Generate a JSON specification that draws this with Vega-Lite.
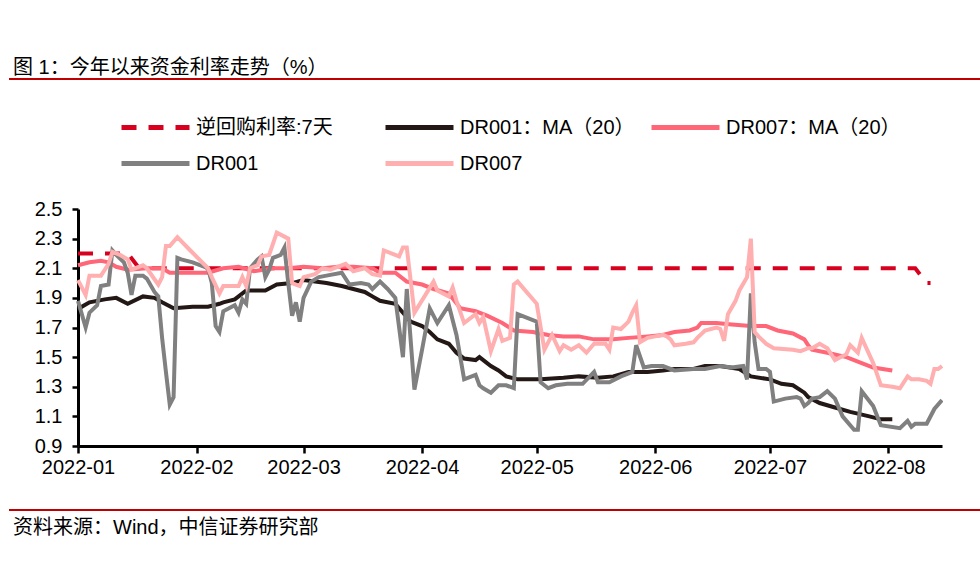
{
  "$schema": "https://vega.github.io/schema/vega-lite/v6.json",
  "background": "white",
  "padding": {"left": 9, "top": 57, "right": 0, "bottom": 0},
  "bounds": "flush",
  "spacing": 64,
  "config": {
    "font": "Liberation Sans, Noto Sans CJK SC, sans-serif",
    "view": {"stroke": null},
    "legend": {
      "orient": "none",
      "symbolType": "stroke",
      "symbolSize": 4624,
      "symbolStrokeWidth": 5,
      "labelFontSize": 20,
      "labelColor": "#000000",
      "labelOffset": 4,
      "labelLimit": 400,
      "padding": 0
    }
  },
  "vconcat": [
    {
      "width": 971,
      "height": 0.01,
      "data": {"values": []},
      "mark": "point",
      "view": {"stroke": "#C00000", "strokeWidth": 2},
      "title": {"text": "图 1：今年以来资金利率走势（%）", "anchor": "start", "frame": "group", "fontSize": 20, "fontWeight": "normal", "color": "#000000", "offset": 1, "dx": 3}
    },
    {
      "width": 971,
      "height": 1,
      "data": {"values": []},
      "mark": "point"
    },
    {
      "width": 933,
      "height": 237,
      "encoding": {
        "x": {
          "field": "date",
          "type": "temporal",
          "scale": {
            "type": "utc",
            "domain": [{"year": 2022, "month": 1, "date": 1, "utc": true}, {"year": 2022, "month": 8, "date": 15, "utc": true}],
            "range": [68, 932]
          },
          "axis": {
            "title": null,
            "values": [
              {"year": 2022, "month": 1, "date": 1, "utc": true},
              {"year": 2022, "month": 2, "date": 1, "utc": true},
              {"year": 2022, "month": 3, "date": 1, "utc": true},
              {"year": 2022, "month": 4, "date": 1, "utc": true},
              {"year": 2022, "month": 5, "date": 1, "utc": true},
              {"year": 2022, "month": 6, "date": 1, "utc": true},
              {"year": 2022, "month": 7, "date": 1, "utc": true},
              {"year": 2022, "month": 8, "date": 1, "utc": true}
            ],
            "labelExpr": "utcFormat(datum.value, '%Y-%m')",
            "labelFontSize": 20,
            "labelColor": "#000000",
            "labelFlush": false,
            "labelOverlap": false,
            "labelPadding": 4,
            "tickSize": 7,
            "tickWidth": 2.5,
            "tickColor": "#000000",
            "domainColor": "#000000",
            "domainWidth": 3,
            "grid": false
          }
        },
        "y": {
          "field": "value",
          "type": "quantitative",
          "scale": {"domain": [0.9, 2.5], "nice": false, "zero": false},
          "axis": {
            "title": null,
            "values": [0.9, 1.1, 1.3, 1.5, 1.7, 1.9, 2.1, 2.3, 2.5],
            "format": ".1f",
            "offset": -68,
            "labelFontSize": 20,
            "labelColor": "#000000",
            "labelPadding": 10,
            "tickSize": 6,
            "tickWidth": 2.5,
            "tickColor": "#000000",
            "domainColor": "#000000",
            "domainWidth": 3,
            "grid": false
          }
        }
      },
      "resolve": {"scale": {"color": "independent"}, "legend": {"color": "independent"}},
      "layer": [
        {
          "data": {"values": [
            {"date": "2022-01-01", "value": 2.2},
            {"date": "2022-01-14", "value": 2.2},
            {"date": "2022-01-17", "value": 2.1},
            {"date": "2022-08-08", "value": 2.1},
            {"date": "2022-08-11", "value": 2.0},
            {"date": "2022-08-12", "value": 2.0}
          ]},
          "mark": {"type": "line", "strokeWidth": 4, "strokeDash": [15, 12], "clip": true},
          "encoding": {
            "color": {"datum": "逆回购利率:7天", "type": "nominal", "scale": {"range": ["#D7001E"]},
              "legend": {"title": null, "orient": "none", "legendX": 109, "legendY": -118, "symbolDash": [15, 12]}}
          }
        },
        {
          "data": {"values": [
            {"date": "2022-01-01", "value": 1.82}, {"date": "2022-01-02", "value": 1.84}, {"date": "2022-01-04", "value": 1.87},
            {"date": "2022-01-08", "value": 1.89}, {"date": "2022-01-11", "value": 1.90}, {"date": "2022-01-14", "value": 1.86},
            {"date": "2022-01-18", "value": 1.91}, {"date": "2022-01-21", "value": 1.90}, {"date": "2022-01-23", "value": 1.87},
            {"date": "2022-01-26", "value": 1.83}, {"date": "2022-01-31", "value": 1.84}, {"date": "2022-02-04", "value": 1.84},
            {"date": "2022-02-07", "value": 1.86}, {"date": "2022-02-08", "value": 1.87}, {"date": "2022-02-11", "value": 1.89},
            {"date": "2022-02-14", "value": 1.95}, {"date": "2022-02-16", "value": 1.95}, {"date": "2022-02-19", "value": 1.95},
            {"date": "2022-02-22", "value": 1.99}, {"date": "2022-02-26", "value": 2.00}, {"date": "2022-03-01", "value": 2.02},
            {"date": "2022-03-04", "value": 2.01}, {"date": "2022-03-07", "value": 2.00}, {"date": "2022-03-11", "value": 1.98},
            {"date": "2022-03-14", "value": 1.96}, {"date": "2022-03-17", "value": 1.94}, {"date": "2022-03-19", "value": 1.91},
            {"date": "2022-03-21", "value": 1.88}, {"date": "2022-03-25", "value": 1.86}, {"date": "2022-03-26", "value": 1.83},
            {"date": "2022-03-29", "value": 1.74}, {"date": "2022-04-01", "value": 1.71}, {"date": "2022-04-03", "value": 1.67},
            {"date": "2022-04-05", "value": 1.62}, {"date": "2022-04-08", "value": 1.59}, {"date": "2022-04-10", "value": 1.53},
            {"date": "2022-04-12", "value": 1.49}, {"date": "2022-04-15", "value": 1.48}, {"date": "2022-04-16", "value": 1.50},
            {"date": "2022-04-19", "value": 1.44}, {"date": "2022-04-21", "value": 1.41}, {"date": "2022-04-23", "value": 1.37},
            {"date": "2022-04-26", "value": 1.35}, {"date": "2022-05-02", "value": 1.35}, {"date": "2022-05-08", "value": 1.36},
            {"date": "2022-05-12", "value": 1.37}, {"date": "2022-05-17", "value": 1.36}, {"date": "2022-05-21", "value": 1.37},
            {"date": "2022-05-25", "value": 1.40}, {"date": "2022-05-30", "value": 1.40}, {"date": "2022-06-03", "value": 1.41},
            {"date": "2022-06-06", "value": 1.42}, {"date": "2022-06-11", "value": 1.42}, {"date": "2022-06-14", "value": 1.44},
            {"date": "2022-06-18", "value": 1.44}, {"date": "2022-06-23", "value": 1.42}, {"date": "2022-06-26", "value": 1.37},
            {"date": "2022-07-01", "value": 1.35}, {"date": "2022-07-04", "value": 1.32}, {"date": "2022-07-07", "value": 1.31},
            {"date": "2022-07-10", "value": 1.26}, {"date": "2022-07-11", "value": 1.23}, {"date": "2022-07-14", "value": 1.19},
            {"date": "2022-07-18", "value": 1.16}, {"date": "2022-07-22", "value": 1.13}, {"date": "2022-07-27", "value": 1.10},
            {"date": "2022-07-30", "value": 1.08}, {"date": "2022-08-02", "value": 1.08}
          ]},
          "mark": {"type": "line", "strokeWidth": 4, "clip": true},
          "encoding": {
            "color": {"datum": "DR001：MA（20）", "type": "nominal", "scale": {"range": ["#231815"]},
              "legend": {"title": null, "orient": "none", "legendX": 373, "legendY": -118}}
          }
        },
        {
          "data": {"values": [
            {"date": "2022-01-01", "value": 2.12}, {"date": "2022-01-04", "value": 2.14}, {"date": "2022-01-07", "value": 2.15},
            {"date": "2022-01-09", "value": 2.14}, {"date": "2022-01-11", "value": 2.11}, {"date": "2022-01-14", "value": 2.09},
            {"date": "2022-01-19", "value": 2.10}, {"date": "2022-01-23", "value": 2.10}, {"date": "2022-01-25", "value": 2.07},
            {"date": "2022-01-31", "value": 2.07}, {"date": "2022-02-04", "value": 2.07}, {"date": "2022-02-08", "value": 2.10},
            {"date": "2022-02-12", "value": 2.11}, {"date": "2022-02-16", "value": 2.08}, {"date": "2022-02-21", "value": 2.10},
            {"date": "2022-02-25", "value": 2.10}, {"date": "2022-03-01", "value": 2.11}, {"date": "2022-03-06", "value": 2.10},
            {"date": "2022-03-10", "value": 2.11}, {"date": "2022-03-14", "value": 2.11}, {"date": "2022-03-19", "value": 2.10},
            {"date": "2022-03-21", "value": 2.07}, {"date": "2022-03-25", "value": 2.07}, {"date": "2022-03-28", "value": 2.01},
            {"date": "2022-04-01", "value": 1.99}, {"date": "2022-04-04", "value": 1.96}, {"date": "2022-04-08", "value": 1.93},
            {"date": "2022-04-11", "value": 1.83}, {"date": "2022-04-15", "value": 1.81}, {"date": "2022-04-18", "value": 1.78},
            {"date": "2022-04-22", "value": 1.73}, {"date": "2022-04-25", "value": 1.68}, {"date": "2022-04-30", "value": 1.67},
            {"date": "2022-05-04", "value": 1.65}, {"date": "2022-05-08", "value": 1.64}, {"date": "2022-05-12", "value": 1.64},
            {"date": "2022-05-16", "value": 1.62}, {"date": "2022-05-21", "value": 1.62}, {"date": "2022-05-25", "value": 1.63},
            {"date": "2022-05-30", "value": 1.64}, {"date": "2022-06-03", "value": 1.65}, {"date": "2022-06-06", "value": 1.67},
            {"date": "2022-06-10", "value": 1.68}, {"date": "2022-06-12", "value": 1.70}, {"date": "2022-06-13", "value": 1.73},
            {"date": "2022-06-17", "value": 1.73}, {"date": "2022-06-21", "value": 1.72}, {"date": "2022-06-26", "value": 1.71},
            {"date": "2022-06-30", "value": 1.71}, {"date": "2022-07-03", "value": 1.68}, {"date": "2022-07-07", "value": 1.66},
            {"date": "2022-07-10", "value": 1.62}, {"date": "2022-07-11", "value": 1.58}, {"date": "2022-07-12", "value": 1.55},
            {"date": "2022-07-16", "value": 1.53}, {"date": "2022-07-21", "value": 1.50}, {"date": "2022-07-25", "value": 1.46},
            {"date": "2022-07-28", "value": 1.43}, {"date": "2022-08-02", "value": 1.41}
          ]},
          "mark": {"type": "line", "strokeWidth": 4, "clip": true},
          "encoding": {
            "color": {"datum": "DR007：MA（20）", "type": "nominal", "scale": {"range": ["#FF6677"]},
              "legend": {"title": null, "orient": "none", "legendX": 639, "legendY": -118}}
          }
        },
        {
          "data": {"values": [
            {"date": "2022-01-01", "value": 1.88}, {"date": "2022-01-03", "value": 1.70}, {"date": "2022-01-04", "value": 1.80},
            {"date": "2022-01-06", "value": 1.85}, {"date": "2022-01-07", "value": 1.98}, {"date": "2022-01-09", "value": 1.99},
            {"date": "2022-01-10", "value": 2.22}, {"date": "2022-01-11", "value": 2.19}, {"date": "2022-01-13", "value": 2.14},
            {"date": "2022-01-14", "value": 2.07}, {"date": "2022-01-15", "value": 1.92}, {"date": "2022-01-16", "value": 2.05},
            {"date": "2022-01-18", "value": 2.05}, {"date": "2022-01-19", "value": 2.03}, {"date": "2022-01-21", "value": 1.94},
            {"date": "2022-01-22", "value": 1.91}, {"date": "2022-01-23", "value": 1.63}, {"date": "2022-01-24", "value": 1.40},
            {"date": "2022-01-25", "value": 1.18}, {"date": "2022-01-26", "value": 1.23}, {"date": "2022-01-27", "value": 2.17},
            {"date": "2022-01-28", "value": 2.16}, {"date": "2022-01-31", "value": 2.14}, {"date": "2022-02-04", "value": 2.10},
            {"date": "2022-02-05", "value": 2.00}, {"date": "2022-02-06", "value": 1.71}, {"date": "2022-02-07", "value": 1.67},
            {"date": "2022-02-08", "value": 1.81}, {"date": "2022-02-11", "value": 1.85}, {"date": "2022-02-12", "value": 1.80},
            {"date": "2022-02-13", "value": 1.89}, {"date": "2022-02-14", "value": 1.86}, {"date": "2022-02-15", "value": 2.10},
            {"date": "2022-02-17", "value": 2.16}, {"date": "2022-02-18", "value": 2.18}, {"date": "2022-02-19", "value": 2.04},
            {"date": "2022-02-20", "value": 2.09}, {"date": "2022-02-21", "value": 2.17}, {"date": "2022-02-23", "value": 2.19},
            {"date": "2022-02-24", "value": 2.24}, {"date": "2022-02-25", "value": 2.00}, {"date": "2022-02-26", "value": 1.78},
            {"date": "2022-02-27", "value": 1.87}, {"date": "2022-02-28", "value": 1.74}, {"date": "2022-03-01", "value": 1.90},
            {"date": "2022-03-03", "value": 2.01}, {"date": "2022-03-05", "value": 2.04}, {"date": "2022-03-07", "value": 2.05},
            {"date": "2022-03-11", "value": 2.07}, {"date": "2022-03-13", "value": 1.99}, {"date": "2022-03-16", "value": 2.00},
            {"date": "2022-03-18", "value": 1.99}, {"date": "2022-03-19", "value": 1.96}, {"date": "2022-03-21", "value": 2.01},
            {"date": "2022-03-23", "value": 1.96}, {"date": "2022-03-25", "value": 1.90}, {"date": "2022-03-27", "value": 1.50},
            {"date": "2022-03-28", "value": 1.96}, {"date": "2022-03-30", "value": 1.28}, {"date": "2022-04-01", "value": 1.55},
            {"date": "2022-04-03", "value": 1.83}, {"date": "2022-04-05", "value": 1.73}, {"date": "2022-04-08", "value": 1.85},
            {"date": "2022-04-10", "value": 1.65}, {"date": "2022-04-12", "value": 1.35}, {"date": "2022-04-15", "value": 1.38},
            {"date": "2022-04-16", "value": 1.31}, {"date": "2022-04-17", "value": 1.29}, {"date": "2022-04-19", "value": 1.26},
            {"date": "2022-04-21", "value": 1.31}, {"date": "2022-04-23", "value": 1.31}, {"date": "2022-04-25", "value": 1.29},
            {"date": "2022-04-26", "value": 1.79}, {"date": "2022-05-01", "value": 1.74}, {"date": "2022-05-02", "value": 1.33},
            {"date": "2022-05-04", "value": 1.29}, {"date": "2022-05-06", "value": 1.31}, {"date": "2022-05-09", "value": 1.32},
            {"date": "2022-05-13", "value": 1.32}, {"date": "2022-05-16", "value": 1.40}, {"date": "2022-05-17", "value": 1.33},
            {"date": "2022-05-20", "value": 1.33}, {"date": "2022-05-23", "value": 1.37}, {"date": "2022-05-26", "value": 1.40},
            {"date": "2022-05-27", "value": 1.58}, {"date": "2022-05-29", "value": 1.43}, {"date": "2022-05-31", "value": 1.44},
            {"date": "2022-06-03", "value": 1.44}, {"date": "2022-06-06", "value": 1.41}, {"date": "2022-06-11", "value": 1.42},
            {"date": "2022-06-14", "value": 1.42}, {"date": "2022-06-18", "value": 1.44}, {"date": "2022-06-21", "value": 1.43},
            {"date": "2022-06-24", "value": 1.44}, {"date": "2022-06-25", "value": 1.35}, {"date": "2022-06-26", "value": 1.93},
            {"date": "2022-06-27", "value": 1.60}, {"date": "2022-06-28", "value": 1.42}, {"date": "2022-06-30", "value": 1.42},
            {"date": "2022-07-01", "value": 1.40}, {"date": "2022-07-02", "value": 1.20}, {"date": "2022-07-05", "value": 1.22},
            {"date": "2022-07-08", "value": 1.23}, {"date": "2022-07-09", "value": 1.22}, {"date": "2022-07-10", "value": 1.17},
            {"date": "2022-07-11", "value": 1.19}, {"date": "2022-07-12", "value": 1.22}, {"date": "2022-07-14", "value": 1.23},
            {"date": "2022-07-16", "value": 1.27}, {"date": "2022-07-18", "value": 1.22}, {"date": "2022-07-20", "value": 1.10},
            {"date": "2022-07-23", "value": 1.01}, {"date": "2022-07-24", "value": 1.01}, {"date": "2022-07-25", "value": 1.27},
            {"date": "2022-07-28", "value": 1.17}, {"date": "2022-07-30", "value": 1.04}, {"date": "2022-08-04", "value": 1.02},
            {"date": "2022-08-06", "value": 1.07}, {"date": "2022-08-07", "value": 1.03}, {"date": "2022-08-08", "value": 1.05},
            {"date": "2022-08-11", "value": 1.05}, {"date": "2022-08-13", "value": 1.15}, {"date": "2022-08-15", "value": 1.21}
          ]},
          "mark": {"type": "line", "strokeWidth": 4, "clip": true},
          "encoding": {
            "color": {"datum": "DR001", "type": "nominal", "scale": {"range": ["#808080"]},
              "legend": {"title": null, "orient": "none", "legendX": 109, "legendY": -82}}
          }
        },
        {
          "data": {"values": [
            {"date": "2022-01-01", "value": 2.02}, {"date": "2022-01-03", "value": 1.92}, {"date": "2022-01-04", "value": 2.05},
            {"date": "2022-01-07", "value": 2.05}, {"date": "2022-01-08", "value": 2.09}, {"date": "2022-01-09", "value": 2.13},
            {"date": "2022-01-10", "value": 2.21}, {"date": "2022-01-12", "value": 2.19}, {"date": "2022-01-14", "value": 2.16},
            {"date": "2022-01-15", "value": 2.09}, {"date": "2022-01-18", "value": 2.12}, {"date": "2022-01-19", "value": 2.10},
            {"date": "2022-01-22", "value": 1.99}, {"date": "2022-01-23", "value": 2.04}, {"date": "2022-01-24", "value": 2.25},
            {"date": "2022-01-25", "value": 2.25}, {"date": "2022-01-27", "value": 2.31}, {"date": "2022-01-30", "value": 2.23},
            {"date": "2022-02-04", "value": 2.10}, {"date": "2022-02-05", "value": 2.04}, {"date": "2022-02-07", "value": 1.93},
            {"date": "2022-02-08", "value": 1.98}, {"date": "2022-02-10", "value": 1.98}, {"date": "2022-02-12", "value": 1.98},
            {"date": "2022-02-13", "value": 2.04}, {"date": "2022-02-14", "value": 1.98}, {"date": "2022-02-15", "value": 2.10},
            {"date": "2022-02-17", "value": 2.12}, {"date": "2022-02-18", "value": 2.18}, {"date": "2022-02-20", "value": 2.19},
            {"date": "2022-02-22", "value": 2.34}, {"date": "2022-02-25", "value": 2.30}, {"date": "2022-02-26", "value": 2.00},
            {"date": "2022-02-27", "value": 1.99}, {"date": "2022-02-28", "value": 1.98}, {"date": "2022-03-01", "value": 2.04},
            {"date": "2022-03-04", "value": 2.06}, {"date": "2022-03-06", "value": 2.10}, {"date": "2022-03-08", "value": 2.09},
            {"date": "2022-03-12", "value": 2.13}, {"date": "2022-03-14", "value": 2.08}, {"date": "2022-03-17", "value": 2.10},
            {"date": "2022-03-19", "value": 2.06}, {"date": "2022-03-21", "value": 2.05}, {"date": "2022-03-22", "value": 2.22},
            {"date": "2022-03-26", "value": 2.18}, {"date": "2022-03-27", "value": 2.24}, {"date": "2022-03-28", "value": 2.24},
            {"date": "2022-03-30", "value": 1.80}, {"date": "2022-04-04", "value": 2.01}, {"date": "2022-04-05", "value": 1.95},
            {"date": "2022-04-08", "value": 1.91}, {"date": "2022-04-09", "value": 1.97}, {"date": "2022-04-10", "value": 1.88},
            {"date": "2022-04-12", "value": 1.73}, {"date": "2022-04-15", "value": 1.79}, {"date": "2022-04-16", "value": 1.73},
            {"date": "2022-04-17", "value": 1.77}, {"date": "2022-04-19", "value": 1.54}, {"date": "2022-04-21", "value": 1.69},
            {"date": "2022-04-22", "value": 1.61}, {"date": "2022-04-24", "value": 1.63}, {"date": "2022-04-25", "value": 1.99},
            {"date": "2022-04-26", "value": 2.01}, {"date": "2022-05-01", "value": 1.86}, {"date": "2022-05-03", "value": 1.55},
            {"date": "2022-05-05", "value": 1.65}, {"date": "2022-05-07", "value": 1.54}, {"date": "2022-05-08", "value": 1.58},
            {"date": "2022-05-10", "value": 1.55}, {"date": "2022-05-12", "value": 1.58}, {"date": "2022-05-14", "value": 1.53},
            {"date": "2022-05-16", "value": 1.59}, {"date": "2022-05-19", "value": 1.59}, {"date": "2022-05-20", "value": 1.55},
            {"date": "2022-05-21", "value": 1.70}, {"date": "2022-05-23", "value": 1.69}, {"date": "2022-05-25", "value": 1.74},
            {"date": "2022-05-26", "value": 1.80}, {"date": "2022-05-27", "value": 1.85}, {"date": "2022-05-28", "value": 1.60},
            {"date": "2022-05-30", "value": 1.63}, {"date": "2022-06-01", "value": 1.64}, {"date": "2022-06-03", "value": 1.65},
            {"date": "2022-06-04", "value": 1.64}, {"date": "2022-06-05", "value": 1.62}, {"date": "2022-06-06", "value": 1.58},
            {"date": "2022-06-09", "value": 1.59}, {"date": "2022-06-11", "value": 1.60}, {"date": "2022-06-12", "value": 1.63},
            {"date": "2022-06-14", "value": 1.68}, {"date": "2022-06-17", "value": 1.70}, {"date": "2022-06-18", "value": 1.69},
            {"date": "2022-06-19", "value": 1.61}, {"date": "2022-06-20", "value": 1.79}, {"date": "2022-06-22", "value": 1.88},
            {"date": "2022-06-23", "value": 1.95}, {"date": "2022-06-25", "value": 2.04}, {"date": "2022-06-26", "value": 2.30},
            {"date": "2022-06-27", "value": 1.67}, {"date": "2022-06-28", "value": 1.64}, {"date": "2022-06-30", "value": 1.59},
            {"date": "2022-07-02", "value": 1.56}, {"date": "2022-07-07", "value": 1.55}, {"date": "2022-07-09", "value": 1.54},
            {"date": "2022-07-11", "value": 1.56}, {"date": "2022-07-12", "value": 1.56}, {"date": "2022-07-14", "value": 1.59},
            {"date": "2022-07-16", "value": 1.56}, {"date": "2022-07-18", "value": 1.48}, {"date": "2022-07-21", "value": 1.52},
            {"date": "2022-07-22", "value": 1.58}, {"date": "2022-07-24", "value": 1.53}, {"date": "2022-07-25", "value": 1.63},
            {"date": "2022-07-28", "value": 1.46}, {"date": "2022-07-30", "value": 1.31}, {"date": "2022-08-02", "value": 1.30},
            {"date": "2022-08-04", "value": 1.29}, {"date": "2022-08-06", "value": 1.37}, {"date": "2022-08-07", "value": 1.35},
            {"date": "2022-08-09", "value": 1.35}, {"date": "2022-08-11", "value": 1.34}, {"date": "2022-08-12", "value": 1.32},
            {"date": "2022-08-13", "value": 1.42}, {"date": "2022-08-14", "value": 1.42}, {"date": "2022-08-15", "value": 1.44}
          ]},
          "mark": {"type": "line", "strokeWidth": 4, "clip": true},
          "encoding": {
            "color": {"datum": "DR007", "type": "nominal", "scale": {"range": ["#FFAFAF"]},
              "legend": {"title": null, "orient": "none", "legendX": 373, "legendY": -82}}
          }
        }
      ]
    },
    {
      "width": 971,
      "height": 0.01,
      "data": {"values": []},
      "mark": "point",
      "view": {"stroke": "#C00000", "strokeWidth": 2},
      "title": {"text": "资料来源：Wind，中信证券研究部", "orient": "bottom", "anchor": "start", "frame": "group", "fontSize": 20, "fontWeight": "normal", "color": "#000000", "offset": 8, "dx": 3}
    }
  ]
}
